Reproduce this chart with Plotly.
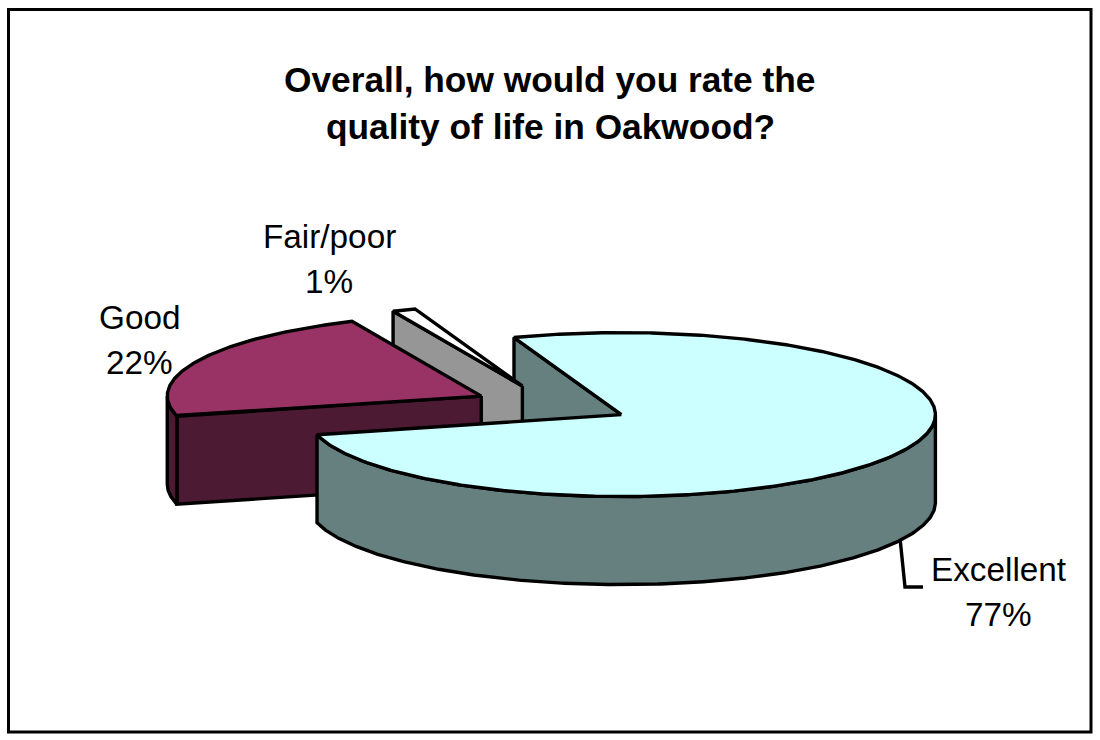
import math
import plotly.graph_objects as go

categories = ["Excellent", "Good", "Fair/poor"]
# Unrounded shares, labels show them rounded
values = [76.6, 22.2, 1.2]
topColors = ["#CCFFFF", "#993366", "#FFFFFF"]
sideColors = ["#668080", "#4D1A33", "#969696"]
titleLines = ["Overall, how would you rate the", "quality of life in Oakwood?"]

# Pie geometry in page pixels
centerX, centerY = 552, 405
radiusX, radiusY = 314, 82
depth = 88
explode = 0.25
startAngle = -20
lineWidth = 3.4


def rimPoint(apex, angle, drop=0):
    rad = math.radians(angle)
    return (apex[0] + radiusX * math.sin(rad), apex[1] - radiusY * math.cos(rad) + drop)


def arc(apex, a0, a1, drop=0):
    steps = max(2, int(abs(a1 - a0)) * 2)
    return [rimPoint(apex, a0 + (a1 - a0) * i / steps, drop) for i in range(steps + 1)]


def addPoly(fig, points, color):
    xs = [p[0] for p in points] + [points[0][0]]
    ys = [p[1] for p in points] + [points[0][1]]
    fig.add_trace(go.Scatter(x=xs, y=ys, mode="lines", fill="toself", fillcolor=color,
                             line=dict(color="black", width=lineWidth), hoverinfo="skip"))


# Work out the angles and the exploded apex of every slice
slices = []
angle = startAngle
for i, val in enumerate(values):
    sweep = 360.0 * val / sum(values)
    mid = math.radians(angle + sweep / 2)
    apex = (centerX + explode * radiusX * math.sin(mid), centerY - explode * radiusY * math.cos(mid))
    slices.append((angle, angle + sweep, apex))
    angle += sweep


def drawWall(fig, i):
    a0, a1, apex = slices[i]
    rim = rimPoint(apex, a0)
    addPoly(fig, [apex, rim, (rim[0], rim[1] + depth), (apex[0], apex[1] + depth)], sideColors[i])


def drawRim(fig, i):
    a0, a1, apex = slices[i]
    lo, hi = max(a0, 90), min(a1, 270)
    if lo < hi:
        addPoly(fig, arc(apex, lo, hi) + arc(apex, hi, lo, depth), sideColors[i])


def drawTop(fig, i):
    a0, a1, apex = slices[i]
    addPoly(fig, [apex] + arc(apex, a0, a1), topColors[i])


fig = go.Figure()
# The wall of the big slice sits behind the small ones, its top goes over them
drawWall(fig, 0)
for i in [2, 1]:
    drawWall(fig, i)
    drawRim(fig, i)
    drawTop(fig, i)
drawRim(fig, 0)
drawTop(fig, 0)

# Leader line to the Excellent label
fig.add_shape(type="path", path="M 900 538 L 905 587 L 923 587", layer="below",
              line=dict(color="black", width=lineWidth))
# Chart frame
fig.add_shape(type="rect", x0=8.5, y0=9.5, x1=1091, y1=732, layer="below",
              line=dict(color="black", width=3))


def addText(x, y, text, bold=False):
    fig.add_annotation(x=x, y=y, text="<b>" + text + "</b>" if bold else text, showarrow=False,
                       xanchor="center", yanchor="middle",
                       font=dict(family="Liberation Sans", size=35.3 if bold else 33.3, color="black"))


addText(550, 79, titleLines[0], True)
addText(550, 126, titleLines[1], True)
labelSpots = [(998, 569), (139, 317), (329, 236)]
for i, (x, y) in enumerate(labelSpots):
    addText(x, y, categories[i])
    addText(x, y + 45, str(round(values[i])) + "%")

fig.update_layout(
    width=1100, height=740, margin=dict(l=0, r=0, t=0, b=0),
    paper_bgcolor="white", plot_bgcolor="white", showlegend=False,
    xaxis=dict(range=[0, 1100], visible=False),
    yaxis=dict(range=[740, 0], visible=False),
)
fig.write_html("out.html", config=dict(displayModeBar=False),
               post_script="document.body.style.margin='0';document.body.style.overflow='hidden';")
